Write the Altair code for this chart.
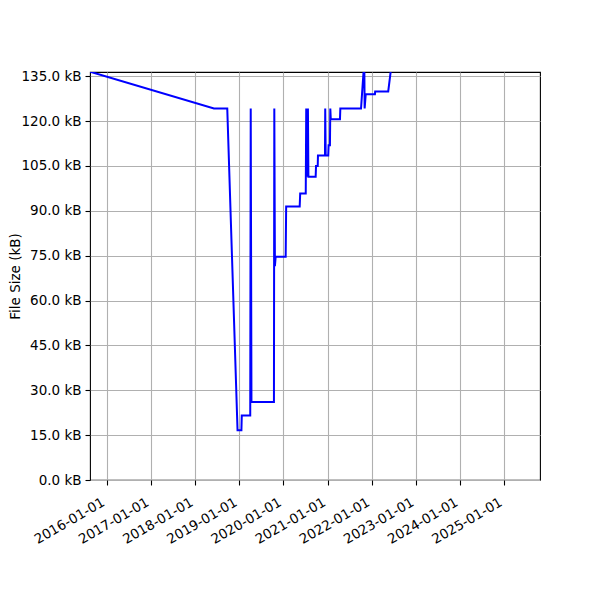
import altair as alt
import pandas as pd

dates = ["2015-05-25", "2018-06-06", "2018-09-24", "2018-12-18", "2019-01-19", "2019-01-22",
         "2019-04-02", "2019-04-06", "2019-04-12", "2019-10-15", "2019-10-18", "2019-10-23",
         "2019-10-29", "2020-01-20", "2020-01-24", "2020-05-15", "2020-05-19", "2020-07-04",
         "2020-07-08", "2020-07-13", "2020-07-22", "2020-07-26", "2020-09-24", "2020-09-27",
         "2020-10-11", "2020-10-13", "2020-12-10", "2020-12-12", "2020-12-16", "2021-01-06",
         "2021-01-09", "2021-01-20", "2021-01-23", "2021-01-27", "2021-04-13", "2021-04-16",
         "2021-10-04", "2021-10-31", "2021-11-03", "2021-11-12", "2022-01-27", "2022-01-29",
         "2022-05-17", "2022-06-17"]
sizes_kb = [137.5, 124.2, 124.2, 16.6, 16.6, 21.6, 21.6, 124.2, 26.1, 26.1, 124.2, 71.5,
            74.6, 74.6, 91.4, 91.4, 95.8, 95.8, 124.2, 101.4, 124.2, 101.4, 101.4, 105.0,
            105.0, 108.5, 108.5, 124.2, 108.5, 108.5, 111.9, 111.9, 124.2, 120.6, 120.6, 124.2,
            124.2, 140.0, 124.2, 129.0, 129.0, 129.9, 129.9, 140.0]
year_ticks = [2016, 2017, 2018, 2019, 2020, 2021, 2022, 2023, 2024, 2025]
y_ticks = [0, 15, 30, 45, 60, 75, 90, 105, 120, 135]

df = pd.DataFrame({"date": [d + "T00:00:00Z" for d in dates], "size": sizes_kb})

font = "DejaVu Sans"

chart = alt.Chart(df).mark_line(color="#0000ff", strokeWidth=2, clip=True).encode(
    x=alt.X("date:T",
            scale=alt.Scale(type="utc",
                            domain=[alt.DateTime(year=2015, month=8, date=16, utc=True),
                                    alt.DateTime(year=2025, month=10, date=23, utc=True)]),
            axis=alt.Axis(values=[alt.DateTime(year=y, month=1, date=1, utc=True) for y in year_ticks],
                          labelExpr="utcFormat(datum.value, '%Y-%m-%d')",
                          labelAngle=330, labelAlign="right", labelBaseline="top",
                          labelPadding=10, labelOffset=-7,
                          title=None)),
    y=alt.Y("size:Q",
            scale=alt.Scale(domain=[0, 136.4], nice=False, zero=False),
            axis=alt.Axis(values=y_ticks,
                          labelExpr="format(datum.value, '.1f') + ' kB'",
                          labelPadding=4,
                          title="File Size (kB)", titleX=-75, titleY=204,
                          titleAngle=270, titleAlign="center", titleBaseline="middle")),
).properties(
    width=450, height=408,
    autosize=alt.AutoSizeParams(type="none"),
    padding={"left": 82, "top": 64, "right": 52, "bottom": 112},
).configure_view(
    stroke="black", strokeWidth=1.1
).configure_axis(
    grid=True, gridColor="#b0b0b0", gridWidth=1.1, gridOpacity=1,
    domain=False, tickColor="black", tickWidth=1.1, tickSize=5,
    labelFont=font, labelFontSize=13.5, labelColor="black",
    titleFont=font, titleFontSize=13.5, titleFontWeight="normal", titleColor="black",
    labelOverlap=False, labelFlush=False,
)

chart.save("out.html", embed_options={"renderer": "svg", "actions": False})
